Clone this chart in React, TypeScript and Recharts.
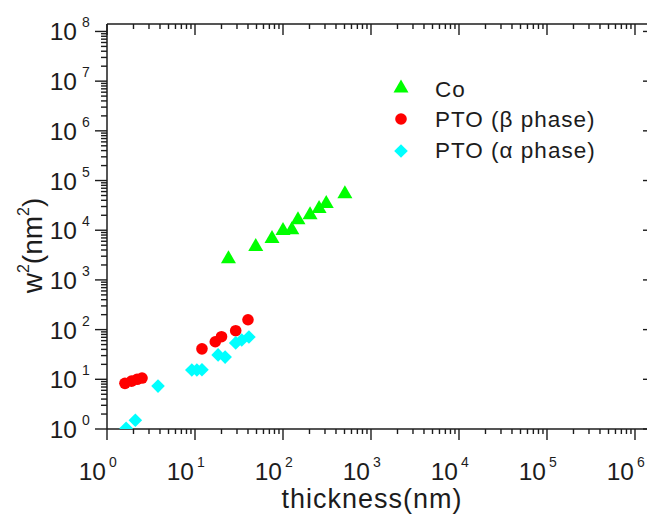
import React from 'react';
import { ScatterChart, Scatter, XAxis, YAxis, Legend } from 'recharts';

// ---- data ----
const coThickness = [24, 49, 75, 100, 126, 148, 203, 257, 310, 505];
const coW2 = [2800, 4900, 7100, 10300, 10700, 17000, 21500, 28600, 36000, 57000];

const betaThickness = [1.6, 1.9, 2.2, 2.5, 12, 17, 20, 29, 40];
const betaW2 = [8.3, 9.2, 10, 10.6, 41, 57, 72, 95, 158];

const alphaThickness = [1.65, 2.1, 3.8, 9.2, 10.5, 12, 18.3, 22, 29, 34, 41];
const alphaW2 = [1.03, 1.5, 7.3, 15.4, 15.4, 15.6, 31, 28, 54, 62, 71];

const seriesNames = ['Co', 'PTO (\u03b2 phase)', 'PTO (\u03b1 phase)'];
const seriesColors = ['#00ff00', '#ff0000', '#00ffff'];

const xMajorTicks = [1, 10, 100, 1000, 10000, 100000, 1000000];
const yMajorTicks = [1, 10, 100, 1000, 10000, 100000, 1000000, 10000000, 100000000];
const minorMultipliers = [2, 3, 4, 5, 6, 7, 8, 9];

const X_MAX = Math.pow(10, 6.216);
const Y_MAX = Math.pow(10, 8.15);

const withMinor = (majors: number[], max: number) => {
  const out: number[] = [];
  majors.forEach((m) => {
    out.push(m);
    minorMultipliers.forEach((k) => {
      if (m * k <= max) out.push(m * k);
    });
  });
  return out;
};
const xTicks = withMinor(xMajorTicks, X_MAX);
const yTicks = withMinor(yMajorTicks, Y_MAX);

const coData = coThickness.map((t, i) => ({ x: t, y: coW2[i] }));
const betaData = betaThickness.map((t, i) => ({ x: t, y: betaW2[i] }));
const alphaData = alphaThickness.map((t, i) => ({ x: t, y: alphaW2[i] }));

const FONT = '"Liberation Sans", Arial, Helvetica, sans-serif';
const INK = '#1c1c1c';

const isMajor = (v: number) => {
  const l = Math.log10(v);
  return Math.abs(l - Math.round(l)) < 1e-6;
};
const expOf = (v: number) => Math.round(Math.log10(v));

// ---- marker shapes ----
const triangle = (cx: number, cy: number, color: string) => (
  <path d={`M${cx},${cy - 7.5} L${cx - 7.5},${cy + 5.5} L${cx + 7.5},${cy + 5.5} Z`} fill={color} />
);
const circle = (cx: number, cy: number, color: string) => (
  <circle cx={cx} cy={cy} r={5.8} fill={color} />
);
const diamond = (cx: number, cy: number, color: string) => (
  <path d={`M${cx},${cy - 6.8} L${cx + 6.8},${cy} L${cx},${cy + 6.8} L${cx - 6.8},${cy} Z`} fill={color} />
);
const markers = [triangle, circle, diamond];

const shapeFor = (idx: number) => (props: any) => markers[idx](props.cx, props.cy, seriesColors[idx]);

// ---- ticks ----
const BottomTick = (props: any) => {
  const { x, y, payload } = props;
  const v = payload.value;
  const major = isMajor(v);
  return (
    <g>
      <line x1={x} y1={y} x2={x} y2={y + (major ? 11 : 5)} stroke={INK} strokeWidth={1.4} />
      {major && (
        <g fontFamily={FONT} fill={INK}>
          <text x={x - 1} y={y + 51} fontSize={24.5} textAnchor="end">10</text>
          <text x={x + 2} y={y + 38} fontSize={14} textAnchor="start">{expOf(v)}</text>
        </g>
      )}
    </g>
  );
};

const TopTick = (props: any) => {
  const { x, y, payload } = props;
  const major = isMajor(payload.value);
  return <line x1={x} y1={y} x2={x} y2={y + (major ? 11 : 5)} stroke={INK} strokeWidth={1.4} />;
};

const LeftTick = (props: any) => {
  const { x, y, payload } = props;
  const v = payload.value;
  const major = isMajor(v);
  return (
    <g>
      <line x1={x} y1={y} x2={x - (major ? 12 : 6)} y2={y} stroke={INK} strokeWidth={1.4} />
      {major && (
        <g fontFamily={FONT} fill={INK}>
          <text x={x - 30} y={y + 9} fontSize={24.5} textAnchor="end">10</text>
          <text x={x - 25} y={y - 4} fontSize={14} textAnchor="start">{expOf(v)}</text>
        </g>
      )}
    </g>
  );
};

const RightTick = (props: any) => {
  const { x, y, payload } = props;
  const major = isMajor(payload.value);
  return <line x1={x} y1={y} x2={x - (major ? 11 : 5)} y2={y} stroke={INK} strokeWidth={1.4} />;
};

// ---- titles ----
const XTitle = (props: any) => {
  const vb = props.viewBox;
  return (
    <text x={372} y={vb.y + 79} fontSize={27} letterSpacing={1} textAnchor="middle" fontFamily={FONT} fill={INK}>
      thickness(nm)
    </text>
  );
};

const YTitle = (props: any) => {
  const vb = props.viewBox;
  const cx = vb.x + 42;
  const cy = vb.y + vb.height / 2 + 19;
  return (
    <text x={cx} y={cy} transform={`rotate(-90, ${cx}, ${cy})`} fontSize={28} textAnchor="middle" fontFamily={FONT} fill={INK}>
      w<tspan fontSize={16} dy={-13}>2</tspan>
      <tspan dy={13}>(nm</tspan>
      <tspan fontSize={16} dy={-13}>2</tspan>
      <tspan dy={13}>)</tspan>
    </text>
  );
};

// ---- legend ----
const renderLegend = () => (
  <svg width={260} height={100} style={{ display: 'block' }}>
    {seriesNames.map((name, i) => (
      <g key={name}>
        {markers[i](16, 17 + i * 32, seriesColors[i])}
        <text x={50} y={26.5 + i * 30.5} fontSize={22.5} letterSpacing={1} fontFamily={FONT} fill={INK}>
          {name}
        </text>
      </g>
    ))}
  </svg>
);

export default function App() {
  return (
    <div style={{ position: 'absolute', left: 0, top: 0, width: 647, height: 516, overflow: 'hidden', background: '#fff' }}>
      <ScatterChart width={660} height={516} margin={{ top: 4, right: 5, bottom: 0, left: 0 }}>
        <XAxis
          xAxisId="b"
          dataKey="x"
          type="number"
          scale="log"
          domain={[1, X_MAX]}
          allowDataOverflow
          ticks={xTicks}
          interval={0}
          tick={BottomTick}
          tickLine={false}
          tickSize={0}
          tickMargin={0}
          height={87}
          axisLine={{ stroke: INK, strokeWidth: 1.5 }}
          label={{ content: XTitle }}
        />
        <XAxis
          xAxisId="t"
          orientation="top"
          dataKey="x"
          type="number"
          scale="log"
          domain={[1, X_MAX]}
          allowDataOverflow
          ticks={xTicks}
          interval={0}
          tick={TopTick}
          tickLine={false}
          tickSize={0}
          tickMargin={0}
          height={20}
          axisLine={{ stroke: INK, strokeWidth: 1.5 }}
        />
        <YAxis
          yAxisId="l"
          dataKey="y"
          type="number"
          scale="log"
          domain={[1, Y_MAX]}
          allowDataOverflow
          ticks={yTicks}
          interval={0}
          tick={LeftTick}
          tickLine={false}
          tickSize={0}
          tickMargin={0}
          width={107}
          axisLine={{ stroke: INK, strokeWidth: 1.5 }}
          label={{ content: YTitle }}
        />
        <YAxis
          yAxisId="r"
          orientation="right"
          dataKey="y"
          type="number"
          scale="log"
          domain={[1, Y_MAX]}
          allowDataOverflow
          ticks={yTicks}
          interval={0}
          tick={RightTick}
          tickLine={false}
          tickSize={0}
          tickMargin={0}
          width={1}
          axisLine={{ stroke: INK, strokeWidth: 1.5 }}
        />
        <Legend
          layout="vertical"
          align="center"
          verticalAlign="middle"
          content={renderLegend}
          wrapperStyle={{ position: 'absolute', left: 385, top: 70, width: 260, height: 100 }}
        />
        <Scatter name="hidden" data={coData} xAxisId="t" yAxisId="r" shape={() => <g />} legendType="none" isAnimationActive={false} />
        <Scatter name={seriesNames[0]} data={coData} xAxisId="b" yAxisId="l" fill={seriesColors[0]} shape={shapeFor(0)} isAnimationActive={false} />
        <Scatter name={seriesNames[1]} data={betaData} xAxisId="b" yAxisId="l" fill={seriesColors[1]} shape={shapeFor(1)} isAnimationActive={false} />
        <Scatter name={seriesNames[2]} data={alphaData} xAxisId="b" yAxisId="l" fill={seriesColors[2]} shape={shapeFor(2)} isAnimationActive={false} />
      </ScatterChart>
    </div>
  );
}
